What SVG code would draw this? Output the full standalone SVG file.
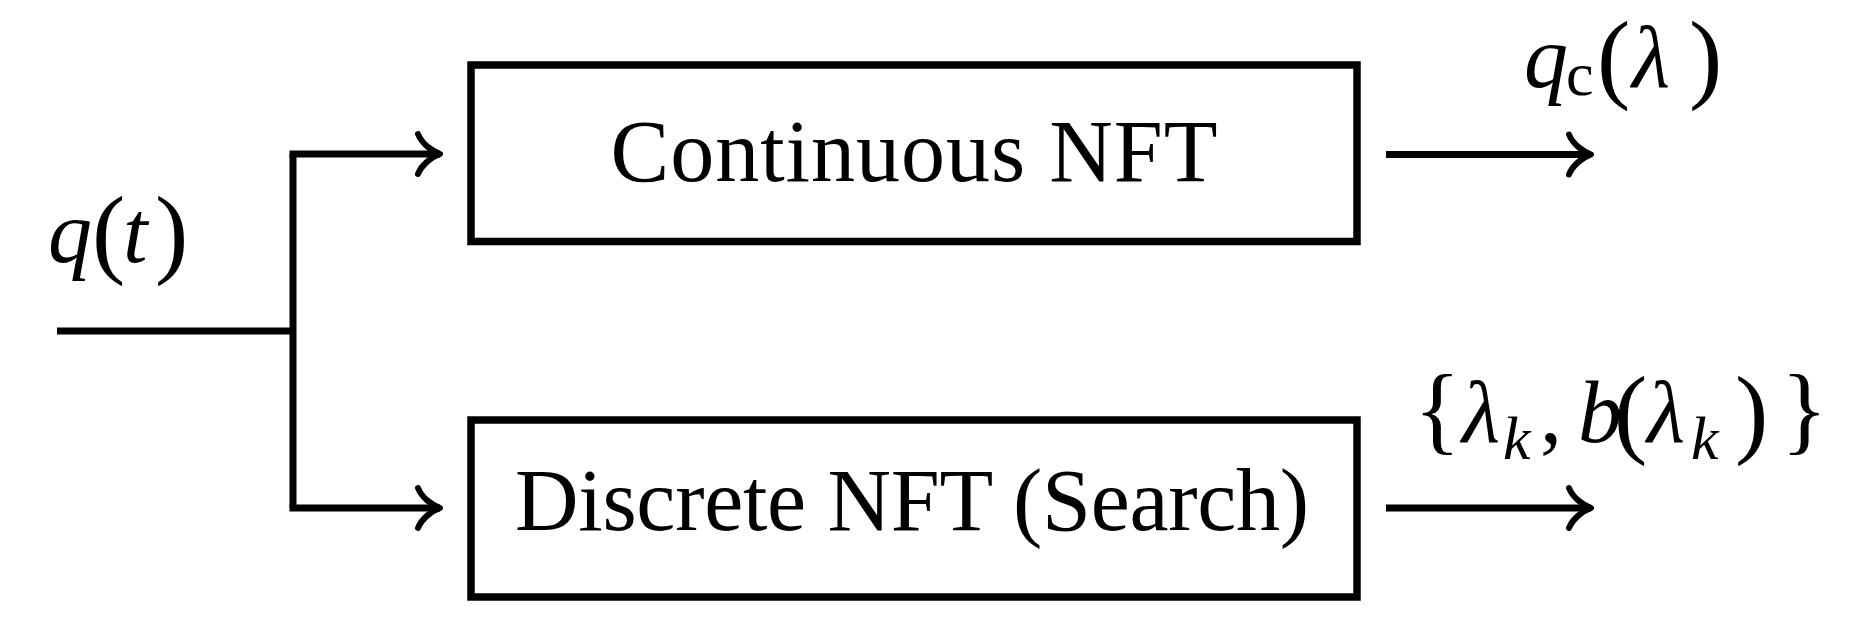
<svg xmlns="http://www.w3.org/2000/svg" width="1849" height="629" viewBox="0 0 1849 629">
<style>
.box{fill:none;stroke:#000;stroke-width:7.5}
.ln{fill:none;stroke:#000;stroke-width:7;stroke-linejoin:miter;stroke-linecap:butt}
.lbl{font-family:"Liberation Serif","Times New Roman",serif;font-size:88px;fill:#000}
.m{font-family:"Liberation Serif","Times New Roman",serif;font-size:88px;fill:#000}
.i{font-style:italic}
.sub{font-size:62px}
.p{font-size:100px}
.b{font-size:97px}
</style>
<defs>
<marker id="arr" markerUnits="userSpaceOnUse" markerWidth="40" markerHeight="50" viewBox="-30 -25 40 50" refX="0" refY="0" orient="auto" overflow="visible">
<path d="M-22,-20 C-18,-10 -8,-3 0,0 C-8,3 -18,10 -22,20" fill="none" stroke="#000" stroke-width="6" stroke-linecap="round" stroke-linejoin="round"/>
</marker>
</defs>
<rect width="1849" height="629" fill="#fff"/>
<g id="connectors">
<path class="ln" d="M57,331 H293"/>
<path class="ln" d="M293,154 V508"/>
<path class="ln" d="M289.5,154 H440" marker-end="url(#arr)"/>
<path class="ln" d="M289.5,508 H440" marker-end="url(#arr)"/>
<path class="ln" d="M1386,154.5 H1591" marker-end="url(#arr)"/>
<path class="ln" d="M1386,508 H1591" marker-end="url(#arr)"/>
</g>
<g id="input-label">
<text class="m" x="48" y="262"><tspan class="i" x="48" y="262">q</tspan><tspan class="p" x="92" y="265">(</tspan><tspan class="i" x="123" y="262">t</tspan><tspan class="p" x="155" y="265">)</tspan></text>
</g>
<g id="continuous-nft">
<rect class="box" x="471" y="65" width="886" height="176.5"/>
<text class="lbl" x="914" y="181" text-anchor="middle" textLength="607" lengthAdjust="spacing">Continuous NFT</text>
</g>
<g id="discrete-nft">
<rect class="box" x="471" y="420" width="886" height="177"/>
<text class="lbl" x="912" y="530" text-anchor="middle" textLength="794" lengthAdjust="spacing">Discrete NFT (Search)</text>
</g>
<g id="output-continuous">
<text class="m" x="1524" y="87"><tspan class="i" x="1524" y="87">q</tspan><tspan class="sub" x="1566" y="95">c</tspan><tspan class="p" x="1597" y="90">(</tspan><tspan class="i" x="1632" y="87">λ</tspan><tspan class="p" x="1689" y="90">)</tspan></text>
</g>
<g id="output-discrete">
<text class="m" x="1414" y="442"><tspan class="b" x="1414" y="442">{</tspan><tspan class="i" x="1462" y="442">λ</tspan><tspan class="i sub" x="1503" y="459">k</tspan><tspan x="1540" y="442">,</tspan><tspan class="i" x="1578" y="442">b</tspan><tspan class="p" x="1614" y="445">(</tspan><tspan class="i" x="1647" y="442">λ</tspan><tspan class="i sub" x="1691" y="459">k</tspan><tspan class="p" x="1735" y="445">)</tspan><tspan class="b" x="1781" y="442">}</tspan></text>
</g>
</svg>
